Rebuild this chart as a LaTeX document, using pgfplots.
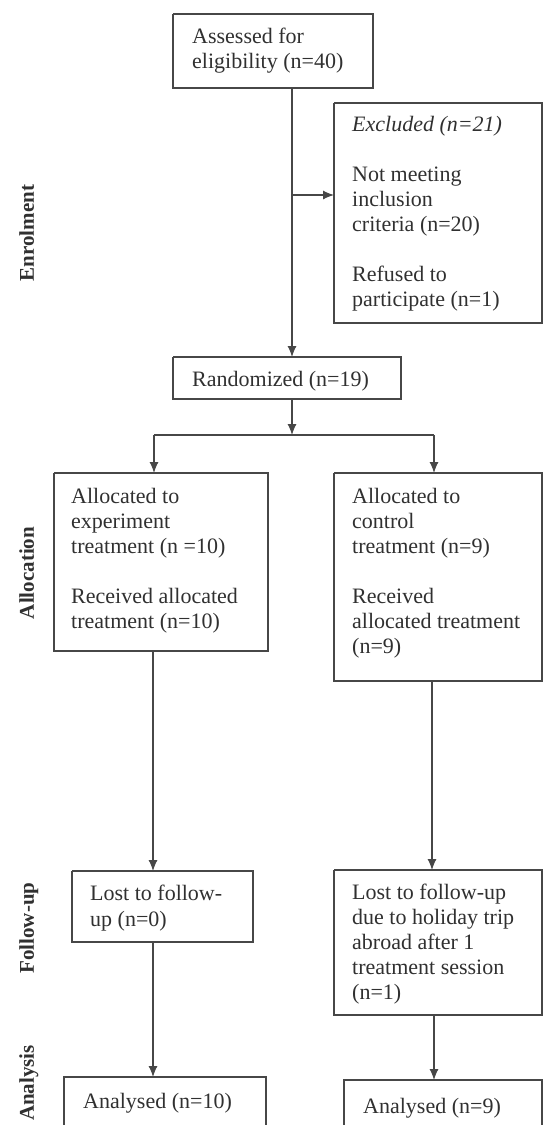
\documentclass[border=0pt]{standalone}
\usepackage{fontspec}
\setmainfont{Liberation Serif}
\usepackage{pgfplots}
\pgfplotsset{compat=1.18}
\usetikzlibrary{arrows.meta}
\definecolor{ln}{HTML}{474747}
\definecolor{tx}{HTML}{303030}
\tikzset{
  t/.style={anchor=base west, text=tx, font=\fontsize{22}{25}\selectfont, inner sep=0pt},
  side/.style={rotate=90, anchor=base, text=tx, font=\fontsize{21}{25}\selectfont\bfseries, inner sep=0pt},
}
\begin{document}
\begin{tikzpicture}
\begin{axis}[width=544pt,height=1125pt,scale only axis,
  xmin=0,xmax=544,ymin=0,ymax=1125,y dir=reverse,hide axis,clip=true]
\path (rel axis cs:0,0) rectangle (rel axis cs:1,1);
% ---- boxes ----
\pgfplotsset{every axis plot/.append style={ln, mark=none, line join=miter}}
\addplot[line width=1.3pt] coordinates {(173,14) (373,14) (373,88) (173,88) (173,14)};
\addplot[line width=1.3pt] coordinates {(334,103) (542,103) (542,323) (334,323) (334,103)};
\addplot[line width=1.3pt] coordinates {(173,357) (401,357) (401,399) (173,399) (173,357)};
\addplot[line width=1.3pt] coordinates {(54,473) (268,473) (268,651) (54,651) (54,473)};
\addplot[line width=1.3pt] coordinates {(334,473) (542,473) (542,681) (334,681) (334,473)};
\addplot[line width=1.3pt] coordinates {(72,871) (253,871) (253,942) (72,942) (72,871)};
\addplot[line width=1.3pt] coordinates {(334,870) (542,870) (542,1015) (334,1015) (334,870)};
\addplot[line width=1.3pt] coordinates {(64,1140) (64,1077) (266,1077) (266,1140)};
\addplot[line width=1.3pt] coordinates {(344,1140) (344,1080) (542,1080) (542,1140)};
% ---- connectors ----
\addplot[line width=1.1pt, -{Latex[length=11pt,width=9pt]}] coordinates {(292,88) (292,357)};
\addplot[line width=1.1pt, -{Latex[length=11pt,width=9pt]}] coordinates {(292,195) (334,195)};
\addplot[line width=1.1pt, -{Latex[length=11pt,width=9pt]}] coordinates {(292,399) (292,435)};
\addplot[line width=1.1pt] coordinates {(154,435) (434,435)};
\addplot[line width=1.1pt, -{Latex[length=11pt,width=9pt]}] coordinates {(154,435) (154,473)};
\addplot[line width=1.1pt, -{Latex[length=11pt,width=9pt]}] coordinates {(434,435) (434,473)};
\addplot[line width=1.1pt, -{Latex[length=11pt,width=9pt]}] coordinates {(153,651) (153,871)};
\addplot[line width=1.1pt, -{Latex[length=11pt,width=9pt]}] coordinates {(432,681) (432,870)};
\addplot[line width=1.1pt, -{Latex[length=11pt,width=9pt]}] coordinates {(153,942) (153,1077)};
\addplot[line width=1.1pt, -{Latex[length=11pt,width=9pt]}] coordinates {(434,1015) (434,1080)};
% ---- texts ----
\node[t] at (axis cs:192,43) {Assessed for};
\node[t] at (axis cs:192,68) {eligibility (n=40)};
\node[t] at (axis cs:352,131) {\itshape Excluded (n=21)};
\node[t] at (axis cs:352,181) {Not meeting};
\node[t] at (axis cs:352,206) {inclusion};
\node[t] at (axis cs:352,231) {criteria (n=20)};
\node[t] at (axis cs:352,281) {Refused to};
\node[t] at (axis cs:352,306) {participate (n=1)};
\node[t] at (axis cs:192,386) {Randomized (n=19)};
\node[t] at (axis cs:71,503) {Allocated to};
\node[t] at (axis cs:71,528) {experiment};
\node[t] at (axis cs:71,553) {treatment (n =10)};
\node[t] at (axis cs:71,603) {Received allocated};
\node[t] at (axis cs:71,628) {treatment (n=10)};
\node[t] at (axis cs:352,503) {Allocated to};
\node[t] at (axis cs:352,528) {control};
\node[t] at (axis cs:352,553) {treatment (n=9)};
\node[t] at (axis cs:352,603) {Received};
\node[t] at (axis cs:352,628) {allocated treatment};
\node[t] at (axis cs:352,653) {(n=9)};
\node[t] at (axis cs:90,900) {Lost to follow-};
\node[t] at (axis cs:90,926) {up (n=0)};
\node[t] at (axis cs:352,899) {Lost to follow-up};
\node[t] at (axis cs:352,924) {due to holiday trip};
\node[t] at (axis cs:352,949) {abroad after 1};
\node[t] at (axis cs:352,974) {treatment session};
\node[t] at (axis cs:352,999) {(n=1)};
\node[t] at (axis cs:83,1108) {Analysed (n=10)};
\node[t] at (axis cs:363,1113) {Analysed (n=9)};
% ---- stage labels ----
\node[side] at (axis cs:34,233) {Enrolment};
\node[side] at (axis cs:34,573) {Allocation};
\node[side] at (axis cs:34,928) {Follow-up};
\node[side] at (axis cs:34,1083) {Analysis};
\end{axis}
\end{tikzpicture}
\end{document}
